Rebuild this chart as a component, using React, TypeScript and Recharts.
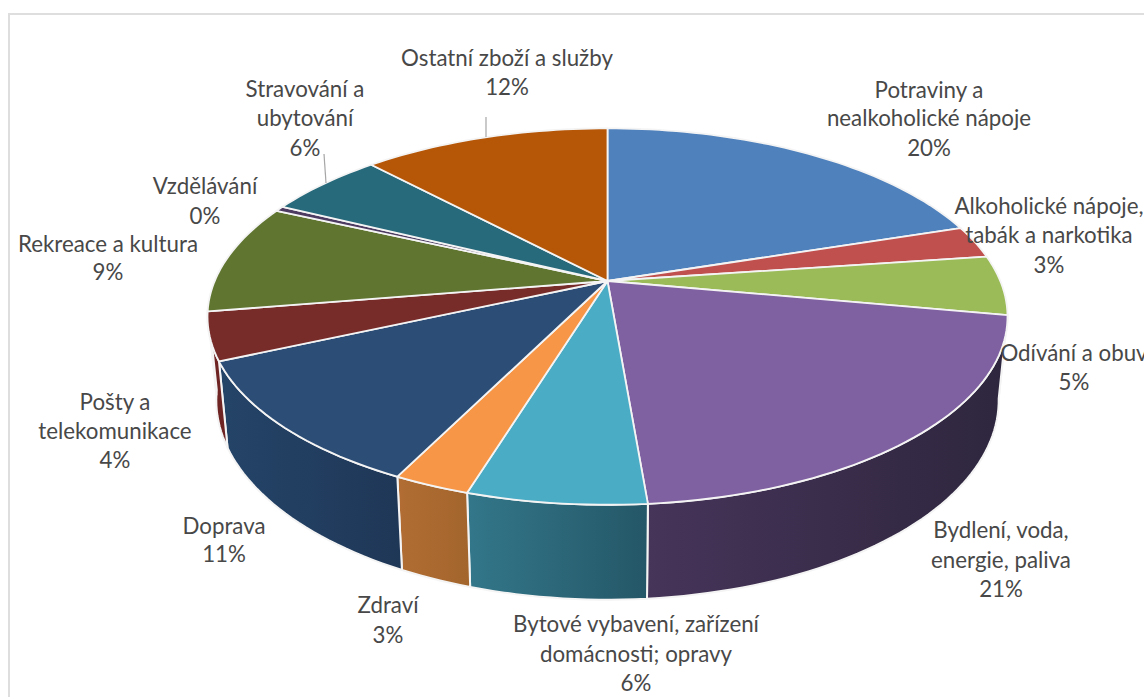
import { PieChart, Pie, Cell } from "recharts"

const categories = [
  "Potraviny a\nnealkoholické nápoje",
  "Alkoholické nápoje,\ntabák a narkotika",
  "Odívání a obuv",
  "Bydlení, voda,\nenergie, paliva",
  "Bytové vybavení, zařízení\ndomácnosti; opravy",
  "Zdraví",
  "Doprava",
  "Pošty a\ntelekomunikace",
  "Rekreace a kultura",
  "Vzdělávání",
  "Stravování a\nubytování",
  "Ostatní zboží a služby",
]

const shares = [20, 2.8, 5.1, 20.77, 6.06, 2.6, 10.97, 4.1, 9.45, 0.45, 5.7, 12.0]

const topColors = [
  "#4f81bd", "#c0504d", "#9bbb59", "#7f60a0", "#4bacc6", "#f79646",
  "#2c4d75", "#772c2a", "#5f7530", "#4d3b62", "#276a7c", "#b65708",
]

// left and right stop of the side wall gradient
const wallStops = [
  ["#2f4d70", "#2f4d70"], ["#732f2d", "#732f2d"], ["#5d7035", "#5d7035"], ["#463459", "#2e263e"],
  ["#33778a", "#245767"], ["#b16d33", "#a3652c"], ["#244468", "#1f3757"], ["#6e2422", "#6e2422"],
  ["#4a5b26", "#4a5b26"], ["#3c2e4d", "#3c2e4d"], ["#1e5261", "#1e5261"], ["#8d4306", "#8d4306"],
]

// label centre x and the y of each line's middle
const labelSpots = [
  { x: 929, ys: [89, 117, 147] },
  { x: 1049, ys: [205, 234, 264] },
  { x: 1074, ys: [352, 381] },
  { x: 1001, ys: [529, 559, 588] },
  { x: 636, ys: [623, 653, 682] },
  { x: 388, ys: [604, 634] },
  { x: 224, ys: [525, 553] },
  { x: 115, ys: [401, 430, 459] },
  { x: 108, ys: [243, 271] },
  { x: 205, ys: [185, 215] },
  { x: 305, ys: [88, 117, 147] },
  { x: 507, ys: [57, 86] },
]

const leaders: Record<number, number[]> = {
  10: [324, 154, 326, 183],
  11: [486, 117, 486, 137],
}

const chartData = categories.map((name, i) => ({ name, value: shares[i] }))

// perspective of the tilted disc
const TILT = 0.462
const NEAR = 0.189
const FONT = "Lato, 'Open Sans', sans-serif"

// degrees clockwise from twelve o'clock -> screen point on the top rim
const rimPoint = (cx: number, cy: number, r: number, deg: number) => {
  const rad = (deg * Math.PI) / 180
  const u = Math.sin(rad)
  const v = -Math.cos(rad)
  const d = 1 - NEAR * v
  return [cx + (r * u) / d, cy + (r * TILT * v) / d]
}

// the lower rim is a bit narrower and sits below the top one
const lowerPoint = (cx: number, cy: number, p: number[]) => [
  cx + 0.978 * (p[0] - cx),
  cy + 81.5 + 1.06 * (p[1] - cy),
]

const arcPoints = (cx: number, cy: number, r: number, from: number, to: number) => {
  const pts: number[][] = []
  const steps = Math.max(2, Math.ceil((to - from) / 1.5))
  for (let i = 0; i <= steps; i++) {
    pts.push(rimPoint(cx, cy, r, from + ((to - from) * i) / steps))
  }
  return pts
}

const toPath = (pts: number[][]) =>
  pts.map((p, i) => `${i ? "L" : "M"}${p[0].toFixed(2)} ${p[1].toFixed(2)}`).join(" ") + " Z"

function TopFace(props: any) {
  const { cx, cy, outerRadius, startAngle, endAngle, fill } = props
  const pts = arcPoints(cx, cy, outerRadius, 90 - startAngle, 90 - endAngle)
  return (
    <path
      d={toPath([[cx, cy], ...pts])}
      fill={fill}
      stroke="#f4f4f4"
      strokeWidth={1.8}
      strokeLinejoin="round"
    />
  )
}

function SideWall(props: any) {
  const { cx, cy, outerRadius, startAngle, endAngle, index } = props
  // only the front part of the disc shows its wall
  const from = Math.max(90 - startAngle, 100)
  const to = Math.min(90 - endAngle, 262)
  if (to <= from) return null
  const upper = arcPoints(cx, cy, outerRadius, from, to)
  const lower = upper.map((p) => lowerPoint(cx, cy, p)).reverse()
  const id = `wall-${index}`
  return (
    <g>
      <defs>
        <linearGradient id={id} x1="0" y1="0" x2="1" y2="0">
          <stop offset="0%" stopColor={wallStops[index][0]} />
          <stop offset="100%" stopColor={wallStops[index][1]} />
        </linearGradient>
      </defs>
      <path
        d={toPath([...upper, ...lower])}
        fill={`url(#${id})`}
        stroke="#f4f4f4"
        strokeWidth={2}
        strokeLinejoin="round"
      />
    </g>
  )
}

function SliceLabel(props: any) {
  const { index, percent } = props
  const spot = labelSpots[index]
  const lines = [...categories[index].split("\n"), `${Math.round(percent * 100)}%`]
  const leader = leaders[index]
  return (
    <g>
      {leader && (
        <line x1={leader[0]} y1={leader[1]} x2={leader[2]} y2={leader[3]} stroke="#a6a6a6" strokeWidth={1.2} />
      )}
      {lines.map((line, i) => (
        <text
          key={i}
          x={spot.x}
          y={spot.ys[i]}
          textAnchor="middle"
          dominantBaseline="central"
          fontFamily={FONT}
          fontSize={22.3}
          fill="#484848"
        >
          {line}
        </text>
      ))}
    </g>
  )
}

export default function App() {
  return (
    <div style={{ position: "fixed", left: 0, top: 0, width: 1144, height: 697, overflow: "hidden", background: "#fff" }}>
      {/* chart frame, runs off the right and bottom edge */}
      <div
        style={{
          position: "absolute",
          left: 8,
          top: 13,
          width: 1300,
          height: 900,
          border: "2px solid #dedede",
          background: "#fff",
        }}
      />
      <div style={{ position: "absolute", left: 0, top: 0 }}>
        <PieChart width={1144} height={697} margin={{ top: 0, right: 0, bottom: 0, left: 0 }}>
          <Pie
            data={chartData}
            dataKey="value"
            cx={607.5}
            cy={281}
            startAngle={90}
            endAngle={-270}
            outerRadius={392.8}
            stroke="none"
            shape={SideWall}
            label={false}
            labelLine={false}
            isAnimationActive={false}
          />
          <Pie
            data={chartData}
            dataKey="value"
            cx={607.5}
            cy={281}
            startAngle={90}
            endAngle={-270}
            outerRadius={392.8}
            shape={TopFace}
            label={SliceLabel}
            labelLine={false}
            isAnimationActive={false}
          >
            {chartData.map((_, i) => (
              <Cell key={i} fill={topColors[i]} />
            ))}
          </Pie>
        </PieChart>
      </div>
    </div>
  )
}
